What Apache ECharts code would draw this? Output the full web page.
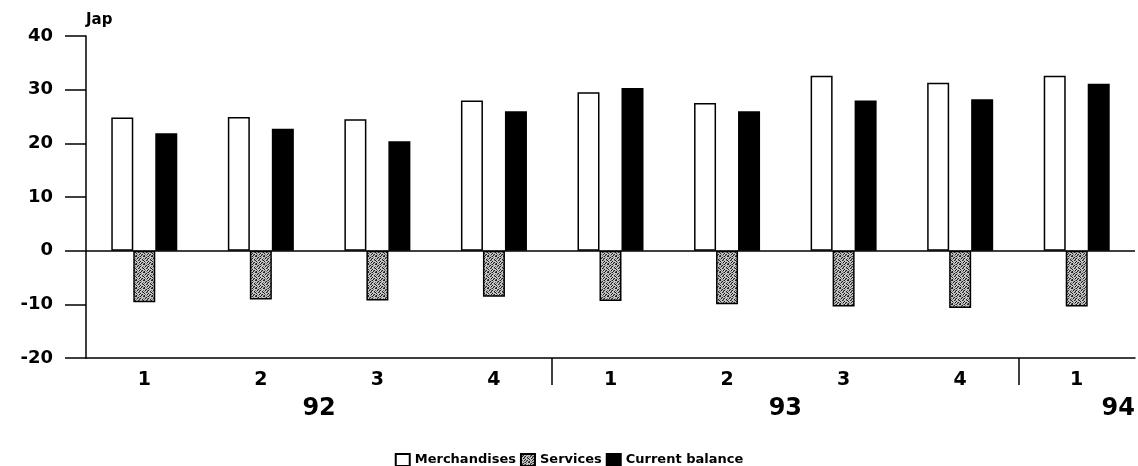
<!DOCTYPE html>
<html>
<head>
<meta charset="utf-8">
<script src="https://cdn.jsdelivr.net/npm/echarts@6/dist/echarts.min.js"></script>
<style>
  html, body { margin: 0; padding: 0; background: #fff; }
  #chart { width: 1138px; height: 466px; }
</style>
</head>
<body>
<div id="chart"></div>
<script>
// quarters 92Q1 .. 94Q1
var periods = ['92-1', '92-2', '92-3', '92-4', '93-1', '93-2', '93-3', '93-4', '94-1']
var quarterLabels = ['1', '2', '3', '4', '1', '2', '3', '4', '1']
var merchandises = [24.8, 24.9, 24.5, 28.0, 29.5, 27.5, 32.6, 31.3, 32.6]
var services = [-9.6, -9.1, -9.3, -8.6, -9.4, -10.0, -10.4, -10.7, -10.4]
var currentBalance = [21.9, 22.7, 20.4, 26.0, 30.3, 26.0, 28.0, 28.2, 31.1]
// year labels sit on a 0..9 quarter scale, separators between years
var yearPos = [2, 6, 9]
var yearNames = ['92', '93', '94']
var yearBreaks = [4, 8]

var font = 'DejaVu Sans'

// grey stipple used for the services bars
function stipple() {
    var c = document.createElement('canvas')
    c.width = 8
    c.height = 8
    var ctx = c.getContext('2d')
    ctx.fillStyle = '#c4c4c4'
    ctx.fillRect(0, 0, 8, 8)
    var dots = [
        '1..21..1',
        '.21..2..',
        '.1.21..2',
        '2..1..1.',
        '..12..21',
        '1...1...',
        '.2.1.21.',
        '1.2..1.2'
    ]
    for (var y = 0; y < 8; y++) {
        for (var x = 0; x < 8; x++) {
            var d = dots[y][x]
            if (d === '.') continue
            ctx.fillStyle = d === '1' ? '#222' : '#777'
            ctx.fillRect(x, y, 1, 1)
        }
    }
    return { image: c, repeat: 'repeat' }
}

var option = {
    backgroundColor: '#fff',
    animation: false,
    textStyle: { fontFamily: font, fontWeight: 'bold', color: '#000' },
    grid: { left: 86, right: 3, top: 36, bottom: 108 },
    legend: {
        left: 'center',
        top: 448,
        icon: 'rect',
        itemWidth: 14,
        itemHeight: 12,
        itemGap: 4,
        textStyle: { fontFamily: font, fontWeight: 'bold', fontSize: 13, color: '#000' },
        data: ['Merchandises', 'Services', 'Current balance']
    },
    xAxis: [{
        type: 'category',
        data: periods,
        axisLine: { onZero: false, lineStyle: { color: '#000', width: 1.5 } },
        axisTick: { alignWithLabel: true, length: 5, lineStyle: { color: '#000', width: 1.5 } },
        axisLabel: {
            margin: 13,
            fontSize: 19,
            fontWeight: 'bold',
            fontFamily: font,
            color: '#000',
            formatter: function (v, i) { return quarterLabels[i] }
        }
    }, {
        type: 'value',
        position: 'bottom',
        min: 0,
        max: 9,
        axisLine: { show: false, onZero: false },
        splitLine: { show: false },
        axisTick: {
            customValues: yearBreaks,
            length: 27,
            lineStyle: { color: '#000', width: 1.5 }
        },
        axisLabel: {
            customValues: yearPos,
            margin: 39,
            fontSize: 24,
            fontWeight: 'bold',
            fontFamily: font,
            color: '#000',
            alignMaxLabel: 'right',
            formatter: function (v) { return yearNames[yearPos.indexOf(v)] }
        }
    }],
    yAxis: {
        type: 'value',
        min: -20,
        max: 40,
        interval: 10,
        name: 'Jap',
        nameLocation: 'end',
        nameGap: 8,
        nameTextStyle: { align: 'left', verticalAlign: 'bottom', fontSize: 15, fontWeight: 'bold', fontFamily: font, color: '#000' },
        axisLine: { show: true, lineStyle: { color: '#000', width: 1.5 } },
        axisTick: { show: true, length: 21, lineStyle: { color: '#000', width: 1.5 } },
        splitLine: { show: false },
        axisLabel: { margin: 33, fontSize: 18, fontWeight: 'bold', fontFamily: font, color: '#000' }
    },
    series: [{
        name: 'Merchandises',
        type: 'bar',
        barWidth: 22,
        barGap: '0%',
        data: merchandises,
        itemStyle: { color: '#fff', borderColor: '#000', borderWidth: 1.5 },
        markLine: {
            silent: true,
            symbol: 'none',
            label: { show: false },
            lineStyle: { color: '#000', width: 1.5, type: 'solid' },
            data: [{ yAxis: 0 }]
        }
    }, {
        name: 'Services',
        type: 'bar',
        barWidth: 22,
        barGap: '0%',
        data: services,
        itemStyle: { color: stipple(), borderColor: '#000', borderWidth: 1.5 }
    }, {
        name: 'Current balance',
        type: 'bar',
        barWidth: 22,
        barGap: '0%',
        data: currentBalance,
        itemStyle: { color: '#000', borderColor: '#000', borderWidth: 1.5 }
    }]
}

var myChart = echarts.init(document.getElementById('chart'))
myChart.setOption(option)
</script>
</body>
</html>
